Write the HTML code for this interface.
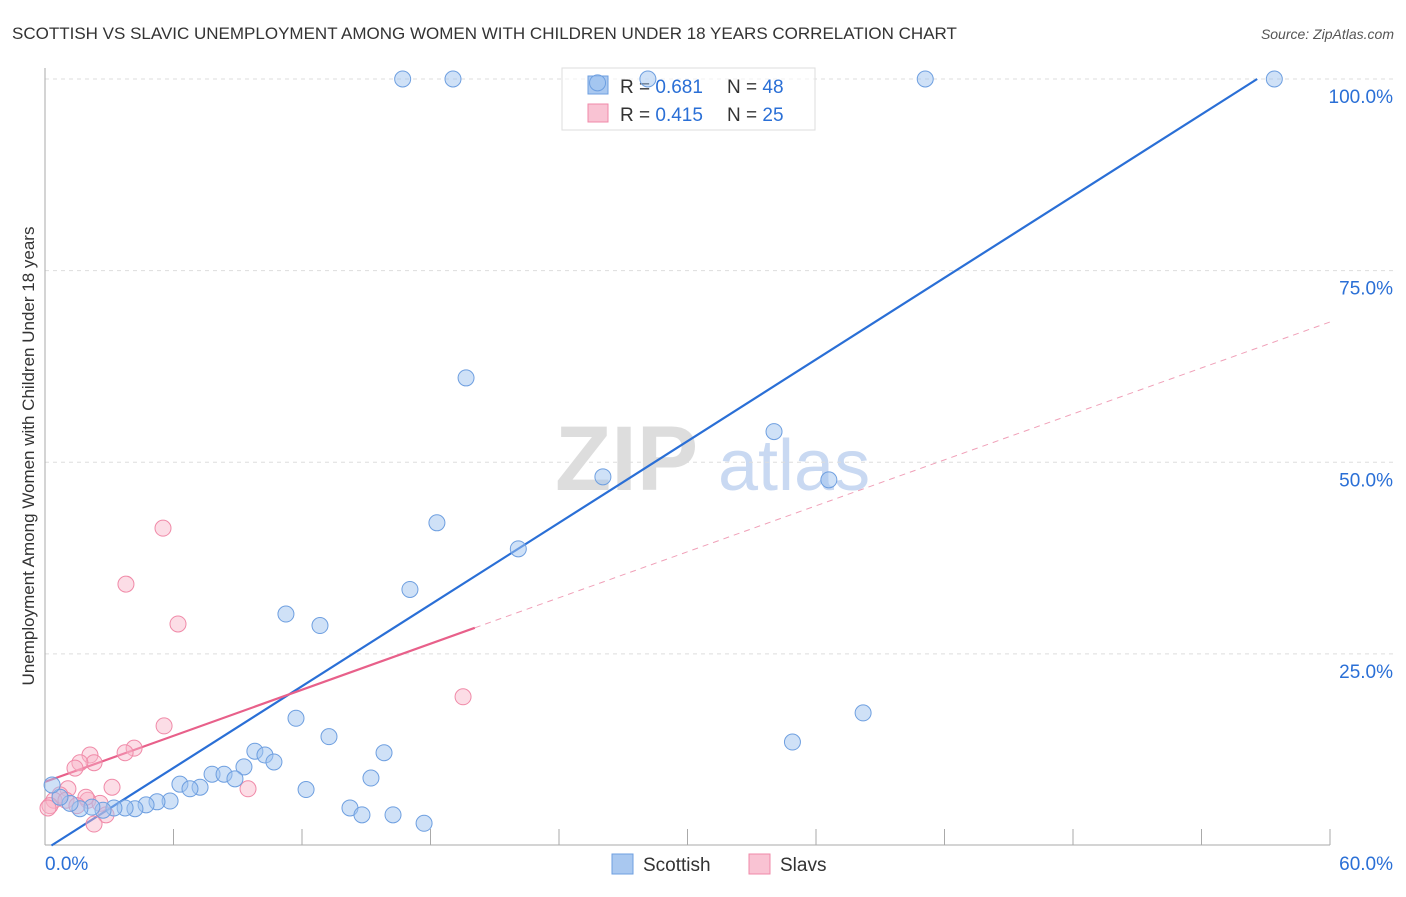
<!DOCTYPE html>
<html><head><meta charset="utf-8"><style>
body{margin:0;background:#fff;font-family:"Liberation Sans",sans-serif;}
svg text{font-family:"Liberation Sans",sans-serif;}
</style></head><body>
<svg id="chart" width="1406" height="892" xmlns="http://www.w3.org/2000/svg">
<text x="12" y="39" font-size="17" fill="#333">SCOTTISH VS SLAVIC UNEMPLOYMENT AMONG WOMEN WITH CHILDREN UNDER 18 YEARS CORRELATION CHART</text>
<text x="1394" y="39" font-size="14" fill="#555" text-anchor="end" font-style="italic">Source: ZipAtlas.com</text>
<text transform="translate(34,456) rotate(-90)" font-size="17" fill="#333" text-anchor="middle">Unemployment Among Women with Children Under 18 years</text>
<g>
<text x="555" y="490" font-size="92" fill="#ddd" font-family="Liberation Serif" font-weight="bold">ZIP</text>
<text x="718" y="490" font-size="72" fill="#c9d9f2">atlas</text>
</g>
<g id="grid"></g><g id="axes"></g><g id="lines"></g>
<g>
<rect x="562" y="68" width="253" height="62" fill="#fff" fill-opacity="0.6" stroke="#ddd"/>
<rect x="588" y="76" width="20" height="18" fill="#a9c8f0" stroke="#6e9fe0"/>
<text x="620" y="93" font-size="19" fill="#333">R = <tspan fill="#2a6fd6">0.681</tspan></text>
<text x="727" y="93" font-size="19" fill="#333">N = <tspan fill="#2a6fd6">48</tspan></text>
<rect x="588" y="104" width="20" height="18" fill="#f9c3d3" stroke="#f08aa8"/>
<text x="620" y="121" font-size="19" fill="#333">R = <tspan fill="#2a6fd6">0.415</tspan></text>
<text x="727" y="121" font-size="19" fill="#333">N = <tspan fill="#2a6fd6">25</tspan></text>
</g>
<g id="pts"></g>
<g>
<rect x="612" y="854" width="21" height="20" fill="#a9c8f0" stroke="#6e9fe0"/>
<text x="643" y="871" font-size="19" fill="#333">Scottish</text>
<rect x="749" y="854" width="21" height="20" fill="#f9c3d3" stroke="#f08aa8"/>
<text x="780" y="871" font-size="19" fill="#333">Slavs</text>
</g>
</svg>
<script>
const scotX=[16.7,19.05,25.8,28.15,41.1,57.4,19.66,34.04,26.05,36.6,18.3,22.1,17.04,11.25,12.84,11.72,38.2,13.26,34.9,15.83,9.8,10.27,10.69,9.29,7.8,8.36,8.87,6.3,7.24,6.77,12.19,15.22,5.84,5.23,4.72,4.2,3.74,3.22,2.71,2.19,1.63,1.17,0.7,0.33,14.24,14.8,16.25,17.7];
const scotY=[100,100,99.5,100,100,100,61.0,54.0,48.1,47.7,42.1,38.7,33.4,30.2,28.7,16.6,17.3,14.2,13.5,12.1,12.3,11.8,10.9,10.25,9.3,9.3,8.7,8.0,7.6,7.4,7.3,8.8,5.8,5.7,5.3,4.8,4.9,4.9,4.6,5.0,4.8,5.5,6.3,7.9,4.9,4.0,4.0,2.9];
const slavX=[5.51,3.78,6.21,19.52,5.56,4.16,3.74,2.1,2.29,1.63,1.4,3.13,9.48,1.07,0.7,0.42,0.23,0.98,2.0,2.57,2.85,2.29,1.91,1.49,0.14];
const slavY=[41.4,34.1,28.9,19.4,15.6,12.7,12.1,11.8,10.8,10.8,10.1,7.6,7.4,7.4,6.6,5.9,5.2,5.9,5.9,5.5,4.0,2.8,6.3,5.2,4.9];
const yTicks=[25,50,75,100];
const xTickLabels=["0.0%","60.0%"];
const NS="http://www.w3.org/2000/svg";
const sx=v=>45+v*(1285/60), sy=v=>845.5-v*7.665;
function mk(t,a,p){const e=document.createElementNS(NS,t);for(const k in a)e.setAttribute(k,a[k]);p.appendChild(e);return e;}
const grid=document.getElementById('grid'),axes=document.getElementById('axes');
yTicks.forEach(t=>{
 const l=mk('line',{x1:45,x2:1394,y1:sy(t),y2:sy(t),stroke:'#ddd','stroke-dasharray':'4,4'},grid);
 
 
 const tx=mk('text',{x:1393,y:sy(t)+24,'font-size':19,fill:'#2a6fd6','text-anchor':'end'},axes);
 tx.textContent=t.toFixed(1)+'%';
 
 
});
const ya=mk('line',{x1:45,x2:45,y1:68,y2:845,stroke:'#aaa'},axes);


const xa=mk('line',{x1:45,x2:1330,y1:845,y2:845,stroke:'#aaa'},axes);


for(let i=1;i<=10;i++){const t=mk('line',{x1:sx(i*6),x2:sx(i*6),y1:829,y2:845,stroke:'#aaa'},axes);
 
 }
[[0,'start',45],[60,'end',1393]].forEach((d,i)=>{const t=mk('text',{x:d[2],y:870,'font-size':19,fill:'#2a6fd6','text-anchor':d[1]},axes);t.textContent=xTickLabels[i];
 
 });
const lines=document.getElementById('lines');
const b1=mk('line',{x1:sx(0.3),y1:sy(0),x2:sx(56.6),y2:sy(100),stroke:'#2a6fd6','stroke-width':2.2},lines);


const p1=mk('line',{x1:sx(0),y1:sy(8.3),x2:sx(20.07),y2:sy(28.4),stroke:'#e8608a','stroke-width':2.2},lines);


const p2=mk('line',{x1:sx(20.07),y1:sy(28.4),x2:sx(60),y2:sy(68.3),stroke:'#f0a0b8','stroke-width':1,'stroke-dasharray':'6,5'},lines);


const pts=document.getElementById('pts');
slavX.forEach((x,i)=>{const c=mk('circle',{cx:sx(x),cy:sy(slavY[i]),r:8,fill:'rgba(248,180,200,0.45)',stroke:'#f08aa8','stroke-width':1},pts);
 
 });
scotX.forEach((x,i)=>{const c=mk('circle',{cx:sx(x),cy:sy(scotY[i]),r:8,fill:'rgba(160,195,240,0.5)',stroke:'#6e9fe0','stroke-width':1},pts);
 
 });
</script>
</body></html>
